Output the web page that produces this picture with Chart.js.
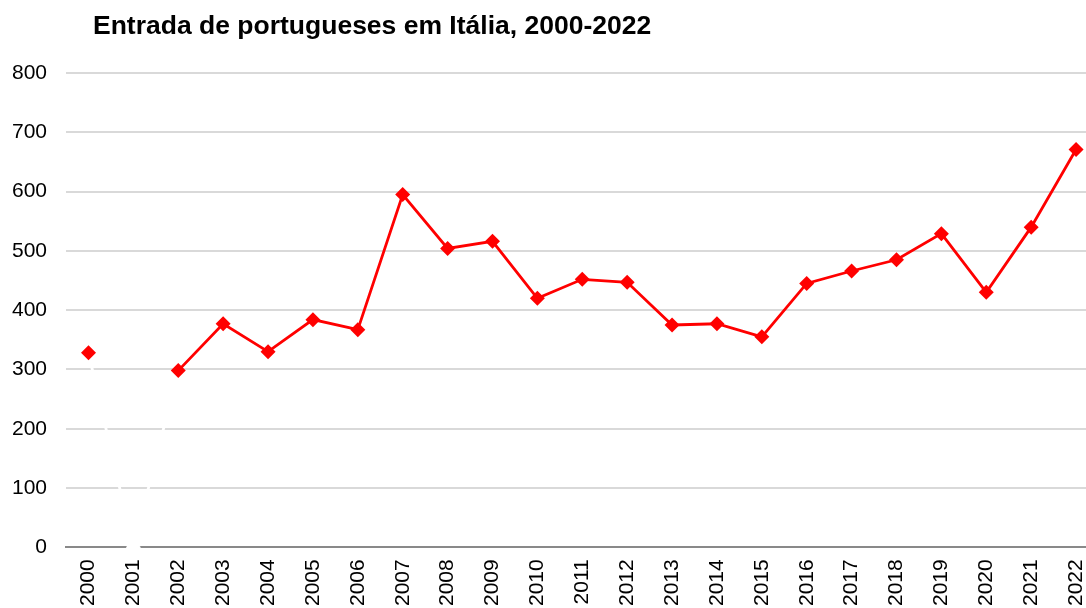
<!DOCTYPE html>
<html>
<head>
<meta charset="utf-8">
<script src="https://cdn.jsdelivr.net/npm/chart.js@4"></script>
<style>
  html, body { margin: 0; padding: 0; background: #fff; overflow: hidden; }
  #wrap { position: relative; width: 1106px; height: 608px; }
  #title {
    position: absolute; left: 93px; top: 10px;
    font-family: "Liberation Sans", Arial, sans-serif;
    font-weight: bold; font-size: 26.5px; color: #000;
  }
</style>
</head>
<body>
<div id="wrap">
  <canvas id="chart" width="1106" height="608"></canvas>
  <div id="title">Entrada de portugueses em Itália, 2000-2022</div>
</div>
<script>
// anos
const years = ["2000", "2001", "2002", "2003", "2004", "2005", "2006", "2007", "2008", "2009", "2010", "2011",
  "2012", "2013", "2014", "2015", "2016", "2017", "2018", "2019", "2020", "2021", "2022"];

// entradas (2001 sem dado -> 0, desenhado a branco como no original)
const entries = [328, 0, 298, 377, 330, 384, 367, 595, 504, 516, 420, 452, 447, 375, 377, 355, 445, 466, 485, 529, 430, 540, 671];

const yTicks = [0, 100, 200, 300, 400, 500, 600, 700, 800];

const missingIdx = 1;
const red = "#ff0000";

Chart.defaults.font.family = '"Liberation Sans", Arial, sans-serif';
Chart.defaults.color = "#000";

const config = {
  type: "line",
  data: {
    labels: years,
    datasets: [{
      data: entries,
      borderColor: red,
      borderWidth: 2.8,
      pointStyle: "rectRot",
      pointRadius: 7.5,
      pointHoverRadius: 7.5,
      pointBorderWidth: 0,
      pointBackgroundColor: entries.map((v, i) => i === missingIdx ? "#fff" : red),
      pointBorderColor: entries.map((v, i) => i === missingIdx ? "#fff" : red),
      segment: {
        borderColor: ctx => (ctx.p0DataIndex === missingIdx || ctx.p1DataIndex === missingIdx) ? "#fff" : red,
      },
      tension: 0,
      clip: false,
    }],
  },
  options: {
    responsive: false,
    animation: false,
    layout: { padding: { left: -7, top: 73, bottom: -2, right: 0 } },
    plugins: {
      legend: { display: false },
      tooltip: { enabled: false },
    },
    scales: {
      x: {
        offset: true,
        grid: { display: false },
        border: { display: true, color: "#898989", width: 2 },
        ticks: {
          font: { size: 21 },
          minRotation: 90,
          maxRotation: 90,
          padding: 4,
        },
      },
      y: {
        min: 0,
        max: 800,
        afterBuildTicks: axis => { axis.ticks = yTicks.map(v => ({ value: v })); },
        grid: { color: "#d9d9d9", lineWidth: 2, drawTicks: false },
        border: { display: false },
        ticks: { font: { size: 21 }, padding: 19 },
      },
    },
  },
};

const chart = new Chart(document.getElementById("chart"), config);
</script>
</body>
</html>
